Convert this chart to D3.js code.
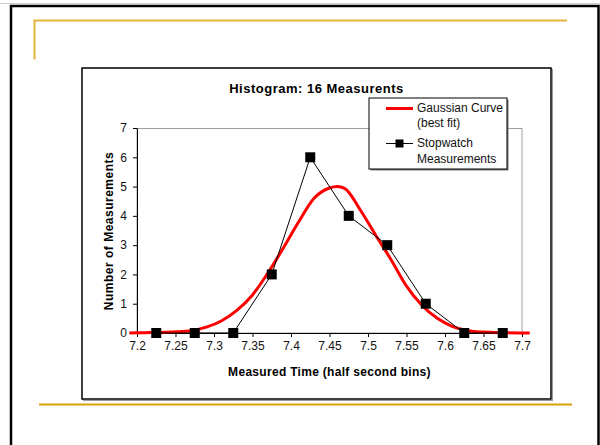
<!DOCTYPE html>
<html lang="en">
<head>
<meta charset="UTF-8">
<title>Histogram: 16 Measurents</title>
<script src="https://cdn.jsdelivr.net/npm/d3@7"></script>
<style>
  body { margin: 0; background: #fff; }
  svg { display: block; font-family: "Liberation Sans", Arial, sans-serif; }
  .axis text { font-size: 12px; fill: #111; font-family: "Liberation Sans", Arial, sans-serif; }
</style>
</head>
<body>
<svg width="600" height="445"></svg>
<script>
// measured bins (centres) and counts
var binCentres = [7.225, 7.275, 7.325, 7.375, 7.425, 7.475, 7.525, 7.575, 7.625, 7.675];
var counts = [0, 0, 0, 2, 6, 4, 3, 1, 0, 0];

// best-fit curve
var curveX = [7.19, 7.21, 7.23, 7.25, 7.27, 7.29, 7.31, 7.33, 7.35, 7.37, 7.39, 7.41, 7.43,
              7.45, 7.46, 7.47, 7.49, 7.51, 7.53, 7.55, 7.57, 7.59, 7.61, 7.63, 7.65, 7.67, 7.71];
var curveY = [0, 0.01, 0.02, 0.04, 0.08, 0.2, 0.42, 0.78, 1.3, 2.05, 2.9, 3.8, 4.6,
              4.95, 5.0, 4.93, 4.2, 3.34, 2.5, 1.6, 0.95, 0.5, 0.22, 0.08, 0.03, 0.01, 0];

var xTicks = [7.2, 7.25, 7.3, 7.35, 7.4, 7.45, 7.5, 7.55, 7.6, 7.65, 7.7];
var yTicks = [0, 1, 2, 3, 4, 5, 6, 7];

var svg = d3.select("svg");

// slide decoration
svg.append("line").attr("x1", 0).attr("x2", 600).attr("y1", 3.5).attr("y2", 3.5)
    .attr("stroke", "#d0d0d0").attr("stroke-width", 1);
svg.append("rect").attr("x", 11).attr("y", 6).attr("width", 587.5).attr("height", 460)
    .attr("fill", "none").attr("stroke", "#000").attr("stroke-width", 2.5);
svg.append("path").attr("d", "M34.5,59.5 V20.5 H567")
    .attr("fill", "none").attr("stroke", "#e3b43c").attr("stroke-width", 2);
svg.append("line").attr("x1", 39).attr("x2", 572).attr("y1", 404.5).attr("y2", 404.5)
    .attr("stroke", "#d9a20a").attr("stroke-width", 2);

// chart box
svg.append("rect").attr("x", 83.5).attr("y", 69.5).attr("width", 469).attr("height", 331)
    .attr("fill", "none").attr("stroke", "#9a9a9a").attr("stroke-width", 1);
svg.append("rect").attr("x", 82).attr("y", 68).attr("width", 469).attr("height", 331)
    .attr("fill", "#fff").attr("stroke", "#000").attr("stroke-width", 1.5);

var x = d3.scaleLinear().domain([7.2, 7.7]).range([137, 522]);
var y = d3.scaleLinear().domain([0, 7]).range([333, 128]);

// plot area frame
svg.append("rect").attr("x", 137).attr("y", 128.5).attr("width", 385).attr("height", 204.5)
    .attr("fill", "none").attr("stroke", "#a0a0a0").attr("stroke-width", 1);

var xAxis = svg.append("g").attr("class", "axis").attr("transform", "translate(0,333)")
    .call(d3.axisBottom(x).tickValues(xTicks).tickFormat(function (d) { return d; })
        .tickSize(4).tickPadding(4).tickSizeOuter(0));
var yAxis = svg.append("g").attr("class", "axis").attr("transform", "translate(137,0)")
    .call(d3.axisLeft(y).tickValues(yTicks).tickFormat(d3.format("d"))
        .tickSize(4).tickPadding(6).tickSizeOuter(0));
[xAxis, yAxis].forEach(function (g) {
    g.select(".domain").attr("stroke", "#000");
    g.selectAll(".tick line").attr("stroke", "#000");
});

// gaussian curve
var curvePts = curveX.map(function (v, i) { return [v, curveY[i]]; });
svg.append("path")
    .datum(curvePts)
    .attr("d", d3.line().x(function (d) { return x(d[0]); }).y(function (d) { return y(d[1]); })
        .curve(d3.curveMonotoneX))
    .attr("fill", "none").attr("stroke", "#ff0000").attr("stroke-width", 3);

// stopwatch measurements
var pts = binCentres.map(function (v, i) { return [v, counts[i]]; });
svg.append("path")
    .datum(pts)
    .attr("d", d3.line().x(function (d) { return x(d[0]); }).y(function (d) { return y(d[1]); }))
    .attr("fill", "none").attr("stroke", "#000").attr("stroke-width", 1);
svg.selectAll("rect.pt").data(pts).enter().append("rect")
    .attr("class", "pt")
    .attr("x", function (d) { return x(d[0]) - 5; })
    .attr("y", function (d) { return y(d[1]) - 5; })
    .attr("width", 10).attr("height", 10).attr("fill", "#000");

// titles
svg.append("text").attr("x", 316.5).attr("y", 93).attr("text-anchor", "middle")
    .attr("font-size", 13).attr("font-weight", "bold").attr("letter-spacing", 0.5)
    .text("Histogram: 16 Measurents");
svg.append("text").attr("x", 329.5).attr("y", 376).attr("text-anchor", "middle")
    .attr("font-size", 12).attr("font-weight", "bold").attr("letter-spacing", 0.3)
    .text("Measured Time (half second bins)");
svg.append("text").attr("transform", "translate(113,231) rotate(-90)").attr("text-anchor", "middle")
    .attr("font-size", 12).attr("font-weight", "bold").attr("letter-spacing", 0.5)
    .text("Number of Measurements");

// legend
var lg = svg.append("g").attr("transform", "translate(369,98)");
lg.append("rect").attr("x", 1.5).attr("y", 1.5).attr("width", 138).attr("height", 71)
    .attr("fill", "#7a7a7a");
lg.append("rect").attr("x", 0).attr("y", 0).attr("width", 138).attr("height", 71)
    .attr("fill", "#fff").attr("stroke", "#000").attr("stroke-width", 1);
lg.append("line").attr("x1", 17).attr("x2", 44).attr("y1", 10.5).attr("y2", 10.5)
    .attr("stroke", "#ff0000").attr("stroke-width", 3);
lg.append("line").attr("x1", 17).attr("x2", 44).attr("y1", 45.5).attr("y2", 45.5)
    .attr("stroke", "#000").attr("stroke-width", 1);
lg.append("rect").attr("x", 26.5).attr("y", 41.5).attr("width", 8).attr("height", 8).attr("fill", "#000");
var legendText = [["Gaussian Curve", 14], ["(best fit)", 29], ["Stopwatch", 49], ["Measurements", 64.5]];
lg.selectAll("text.lt").data(legendText).enter().append("text")
    .attr("class", "lt")
    .attr("x", 48).attr("y", function (d) { return d[1]; })
    .attr("font-size", 12).attr("fill", "#111")
    .text(function (d) { return d[0]; });
</script>
</body>
</html>
